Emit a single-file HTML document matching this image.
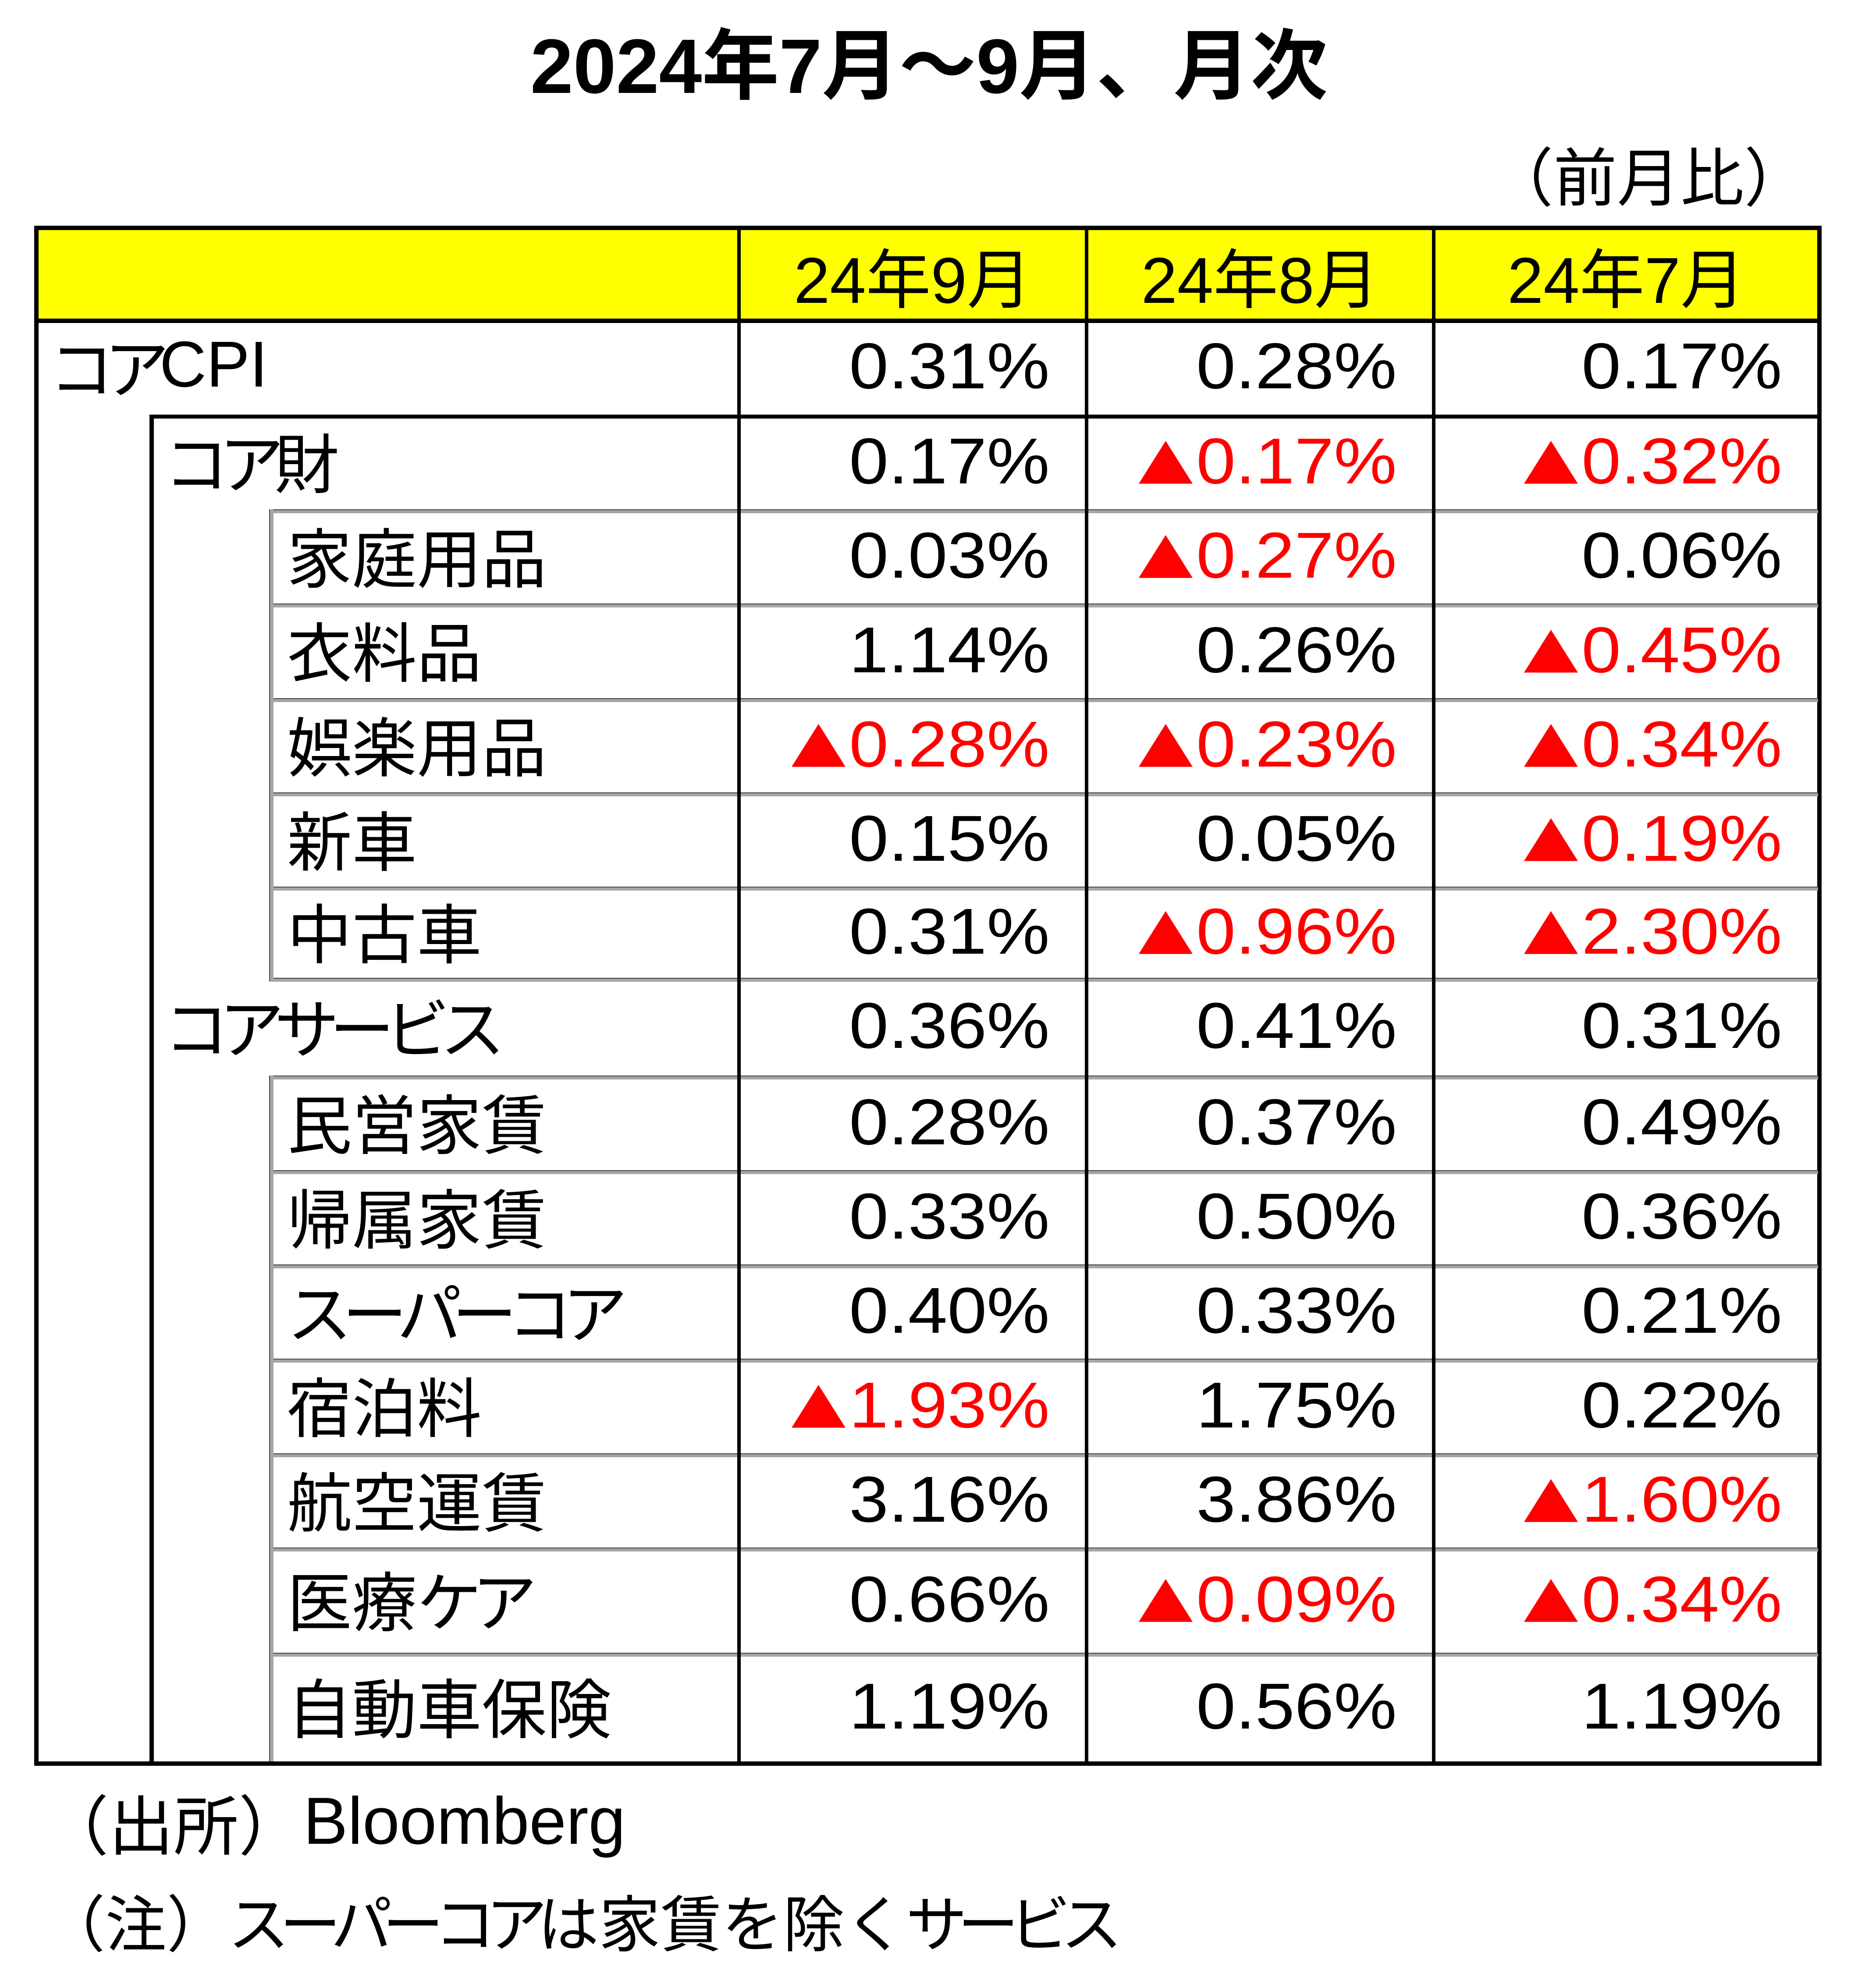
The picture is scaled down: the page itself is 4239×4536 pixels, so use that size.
<!DOCTYPE html>
<html><head><meta charset="utf-8">
<style>
html,body{margin:0;padding:0;background:#fff;}
body{width:4239px;height:4536px;position:relative;overflow:hidden;font-family:"Liberation Sans","Noto Sans CJK JP",sans-serif;color:#000;}
.b{position:absolute;background:#000;}
.g{position:absolute;background:#a6a6a6;border-top:2px solid #444;box-sizing:border-box;}
.gv{position:absolute;background:#a6a6a6;border-left:2px solid #444;box-sizing:border-box;}
.t{position:absolute;font-size:148px;white-space:nowrap;display:flex;align-items:center;}
.r{color:#f00;}
.v1,.v2,.v3{justify-content:flex-end;transform:scaleX(1.09);transform-origin:right center;margin-top:-6px;}
.v1{right:1844px;}
.v2{right:1052px;}
.v3{right:173px;}
.tri{font-family:"Noto Sans CJK JP",sans-serif;font-size:120px;margin-right:4px;}
.k{letter-spacing:-22px;}
.lab{margin-top:-10px;}
</style></head><body>
<div class="t" style="left:0;width:4239px;top:40px;height:190px;justify-content:center;font-weight:bold;font-size:176px;">2024年7月～9月、月次</div>
<div class="t" style="right:115px;top:310px;height:170px;font-size:145px;">（前月比）</div>

<div style="position:absolute;left:88px;top:525px;width:4058px;height:202px;background:#ffff00"></div>

<div class="b" style="left:78px;top:515px;width:4078px;height:10px"></div>
<div class="b" style="left:78px;top:4019px;width:4078px;height:10px"></div>
<div class="b" style="left:78px;top:515px;width:10px;height:3514px"></div>
<div class="b" style="left:4146px;top:515px;width:10px;height:3514px"></div>
<div class="b" style="left:78px;top:727px;width:4078px;height:10px"></div>

<div class="b" style="left:341px;top:946px;width:3810px;height:9px"></div>
<div class="b" style="left:341px;top:946px;width:10px;height:3078px"></div>

<div class="g" style="left:614px;top:1162px;width:3534px;height:9px"></div>
<div class="g" style="left:614px;top:1377px;width:3534px;height:9px"></div>
<div class="g" style="left:614px;top:1593px;width:3534px;height:9px"></div>
<div class="g" style="left:614px;top:1808px;width:3534px;height:9px"></div>
<div class="g" style="left:614px;top:2023px;width:3534px;height:9px"></div>
<div class="g" style="left:614px;top:2231px;width:3534px;height:9px"></div>
<div class="g" style="left:614px;top:2454px;width:3534px;height:9px"></div>
<div class="g" style="left:614px;top:2670px;width:3534px;height:9px"></div>
<div class="g" style="left:614px;top:2885px;width:3534px;height:9px"></div>
<div class="g" style="left:614px;top:3100px;width:3534px;height:9px"></div>
<div class="g" style="left:614px;top:3316px;width:3534px;height:9px"></div>
<div class="g" style="left:614px;top:3531px;width:3534px;height:9px"></div>
<div class="g" style="left:614px;top:3771px;width:3534px;height:9px"></div>
<div class="gv" style="left:614px;top:1162px;width:10px;height:1077px"></div>
<div class="gv" style="left:614px;top:2454px;width:10px;height:1565px"></div>

<div class="b" style="left:1682px;top:515px;width:8px;height:3514px"></div>
<div class="b" style="left:2475px;top:515px;width:8px;height:3514px"></div>
<div class="b" style="left:3267px;top:515px;width:8px;height:3514px"></div>

<div class="t" style="left:1690px;width:785px;top:525px;height:202px;justify-content:center;">24年9月</div>
<div class="t" style="left:2483px;width:784px;top:525px;height:202px;justify-content:center;">24年8月</div>
<div class="t" style="left:3275px;width:871px;top:525px;height:202px;justify-content:center;">24年7月</div>

<div class="t lab" style="left:112px;top:737px;height:209px"><span class="k">コア</span>CPI</div>
<div class="t v1" style="top:737px;height:209px">0.31%</div>
<div class="t v2" style="top:737px;height:209px">0.28%</div>
<div class="t v3" style="top:737px;height:209px">0.17%</div>

<div class="t lab" style="left:374px;top:955px;height:207px"><span class="k">コア</span>財</div>
<div class="t v1" style="top:955px;height:207px">0.17%</div>
<div class="t v2 r" style="top:955px;height:207px"><span class="tri">▲</span>0.17%</div>
<div class="t v3 r" style="top:955px;height:207px"><span class="tri">▲</span>0.32%</div>

<div class="t lab" style="left:655px;top:1171px;height:206px">家庭用品</div>
<div class="t v1" style="top:1171px;height:206px">0.03%</div>
<div class="t v2 r" style="top:1171px;height:206px"><span class="tri">▲</span>0.27%</div>
<div class="t v3" style="top:1171px;height:206px">0.06%</div>

<div class="t lab" style="left:655px;top:1386px;height:207px">衣料品</div>
<div class="t v1" style="top:1386px;height:207px">1.14%</div>
<div class="t v2" style="top:1386px;height:207px">0.26%</div>
<div class="t v3 r" style="top:1386px;height:207px"><span class="tri">▲</span>0.45%</div>

<div class="t lab" style="left:655px;top:1602px;height:206px">娯楽用品</div>
<div class="t v1 r" style="top:1602px;height:206px"><span class="tri">▲</span>0.28%</div>
<div class="t v2 r" style="top:1602px;height:206px"><span class="tri">▲</span>0.23%</div>
<div class="t v3 r" style="top:1602px;height:206px"><span class="tri">▲</span>0.34%</div>

<div class="t lab" style="left:655px;top:1817px;height:206px">新車</div>
<div class="t v1" style="top:1817px;height:206px">0.15%</div>
<div class="t v2" style="top:1817px;height:206px">0.05%</div>
<div class="t v3 r" style="top:1817px;height:206px"><span class="tri">▲</span>0.19%</div>

<div class="t lab" style="left:655px;top:2032px;height:199px">中古車</div>
<div class="t v1" style="top:2032px;height:199px">0.31%</div>
<div class="t v2 r" style="top:2032px;height:199px"><span class="tri">▲</span>0.96%</div>
<div class="t v3 r" style="top:2032px;height:199px"><span class="tri">▲</span>2.30%</div>

<div class="t lab" style="left:374px;top:2240px;height:214px"><span class="k">コアサービス</span></div>
<div class="t v1" style="top:2240px;height:214px">0.36%</div>
<div class="t v2" style="top:2240px;height:214px">0.41%</div>
<div class="t v3" style="top:2240px;height:214px">0.31%</div>

<div class="t lab" style="left:655px;top:2463px;height:207px">民営家賃</div>
<div class="t v1" style="top:2463px;height:207px">0.28%</div>
<div class="t v2" style="top:2463px;height:207px">0.37%</div>
<div class="t v3" style="top:2463px;height:207px">0.49%</div>

<div class="t lab" style="left:655px;top:2679px;height:206px">帰属家賃</div>
<div class="t v1" style="top:2679px;height:206px">0.33%</div>
<div class="t v2" style="top:2679px;height:206px">0.50%</div>
<div class="t v3" style="top:2679px;height:206px">0.36%</div>

<div class="t lab" style="left:655px;top:2894px;height:206px"><span class="k">スーパーコア</span></div>
<div class="t v1" style="top:2894px;height:206px">0.40%</div>
<div class="t v2" style="top:2894px;height:206px">0.33%</div>
<div class="t v3" style="top:2894px;height:206px">0.21%</div>

<div class="t lab" style="left:655px;top:3109px;height:207px">宿泊料</div>
<div class="t v1 r" style="top:3109px;height:207px"><span class="tri">▲</span>1.93%</div>
<div class="t v2" style="top:3109px;height:207px">1.75%</div>
<div class="t v3" style="top:3109px;height:207px">0.22%</div>

<div class="t lab" style="left:655px;top:3325px;height:206px">航空運賃</div>
<div class="t v1" style="top:3325px;height:206px">3.16%</div>
<div class="t v2" style="top:3325px;height:206px">3.86%</div>
<div class="t v3 r" style="top:3325px;height:206px"><span class="tri">▲</span>1.60%</div>

<div class="t lab" style="left:655px;top:3540px;height:231px">医療<span class="k">ケア</span></div>
<div class="t v1" style="top:3540px;height:231px">0.66%</div>
<div class="t v2 r" style="top:3540px;height:231px"><span class="tri">▲</span>0.09%</div>
<div class="t v3 r" style="top:3540px;height:231px"><span class="tri">▲</span>0.34%</div>

<div class="t lab" style="left:655px;top:3780px;height:239px">自動車保険</div>
<div class="t v1" style="top:3780px;height:239px">1.19%</div>
<div class="t v2" style="top:3780px;height:239px">0.56%</div>
<div class="t v3" style="top:3780px;height:239px">1.19%</div>

<div class="t" style="left:100px;top:4070px;height:170px;font-size:148px">（出所）<span style="font-size:152px">Bloomberg</span></div>
<div class="t" style="left:100px;top:4296px;height:170px;font-size:140px">（注）<span class="k">スーパーコア</span>は家賃を除く<span class="k">サービス</span></div>
</body></html>
